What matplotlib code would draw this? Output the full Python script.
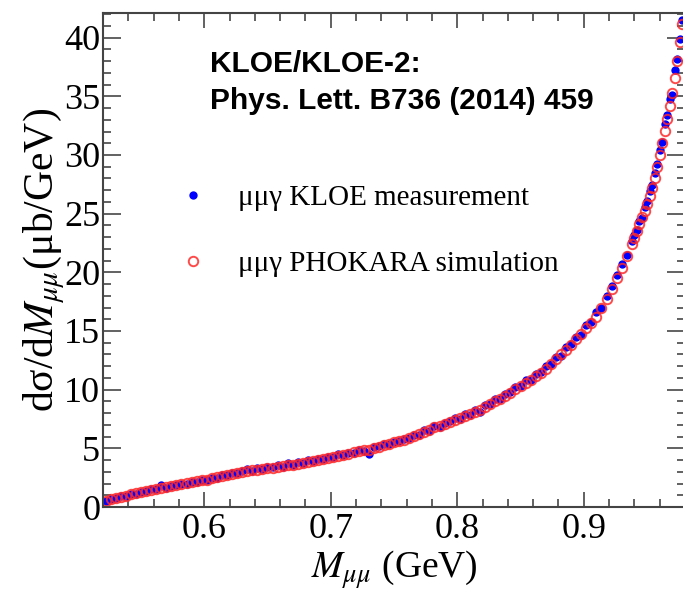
import numpy as np
import matplotlib
matplotlib.use("Agg")
import matplotlib.pyplot as plt
from matplotlib.ticker import MultipleLocator

# bin centres (GeV): 4 MeV bins up to 0.938, 2 MeV bins near the phi region
m_low = np.arange(0.522, 0.9385, 0.004)
m_high = np.arange(0.940, 0.9805, 0.002)
m_mumu = np.concatenate([m_low, m_high])

# PHOKARA simulation, dsigma/dM (ub/GeV)
sim_low = [0.55, 0.65, 0.78, 0.88, 0.98, 1.08, 1.18, 1.28, 1.36, 1.45,
           1.53, 1.62, 1.70, 1.78, 1.86, 1.94, 2.02, 2.10, 2.18, 2.26,
           2.34, 2.44, 2.54, 2.64, 2.74, 2.84, 2.92, 3.00, 3.06, 3.12,
           3.18, 3.24, 3.30, 3.36, 3.42, 3.48, 3.54, 3.60, 3.68, 3.76,
           3.84, 3.92, 4.00, 4.10, 4.20, 4.29, 4.37, 4.45, 4.55, 4.65,
           4.74, 4.82, 4.90, 5.02, 5.14, 5.26, 5.38, 5.50, 5.62, 5.74,
           5.87, 6.03, 6.20, 6.40, 6.60, 6.78, 6.94, 7.10, 7.26, 7.42,
           7.58, 7.74, 7.90, 8.10, 8.30, 8.52, 8.76, 9.00, 9.24, 9.48,
           9.74, 10.02, 10.30, 10.58, 10.86, 11.16, 11.46, 11.80, 12.20, 12.60,
           13.00, 13.40, 13.80, 14.28, 14.76, 15.24, 15.72, 16.20, 16.95, 17.75,
           18.62, 19.50, 20.40, 21.40, 22.40]
sim_high = [22.90, 23.50, 24.10, 24.70, 25.25, 25.80, 26.50, 27.20, 28.00, 29.00,
            30.00, 31.00, 32.05, 33.10, 34.20, 35.30, 36.60, 38.00, 39.60, 41.20,
            42.80]

# KLOE measurement, dsigma/dM (ub/GeV)
data_low = [0.50, 0.68, 0.74, 0.92, 0.95, 1.12, 1.15, 1.32, 1.33, 1.50,
            1.50, 1.90, 1.62, 1.82, 1.84, 1.98, 2.00, 2.14, 2.16, 2.30,
            2.30, 2.48, 2.50, 2.70, 2.72, 2.88, 2.90, 3.06, 3.20, 3.08,
            3.34, 3.20, 3.40, 3.38, 3.58, 3.44, 3.72, 3.56, 3.86, 3.72,
            3.98, 3.88, 4.05, 4.06, 4.30, 4.24, 4.50, 4.40, 4.62, 4.60,
            4.86, 4.80, 4.50, 5.10, 5.20, 5.38, 5.34, 5.58, 5.66, 5.80,
            5.84, 6.10, 6.14, 6.55, 6.50, 6.90, 6.86, 7.20, 7.30, 7.60,
            7.50, 7.90, 7.84, 8.30, 8.10, 8.70, 8.80, 9.20, 9.18, 9.60,
            9.80, 10.20, 10.30, 10.80, 10.84, 11.30, 11.50, 12.00, 12.20, 12.80,
            12.90, 13.60, 13.90, 14.50, 14.70, 15.50, 15.80, 16.60, 17.00, 18.00,
            18.80, 19.80, 20.70, 21.50, 22.70]
data_high = [23.20, 23.60, 24.40, 24.60, 25.60, 26.10, 26.90, 27.40, 28.50, 29.20,
             30.40, 31.10, 32.60, 33.40, 34.80, 35.10, 37.20, 38.20, 39.90, 41.50,
             42.90]

xsec_sim = np.array(sim_low + sim_high)
xsec_data = np.array(data_low + data_high)

plt.rcParams["font.family"] = ["Liberation Serif", "DejaVu Serif"]
plt.rcParams["mathtext.fontset"] = "stix"

fig = plt.figure(figsize=(6.83, 5.97), dpi=100)
ax = fig.add_axes([103 / 683, 90 / 597, 582 / 683, 494 / 597])

ax.plot(m_mumu, xsec_data, "o", color="#0000ff", markersize=6, markeredgewidth=0,
        label="μμγ KLOE measurement")
ax.plot(m_mumu, xsec_sim, "o", markerfacecolor="none", markeredgecolor="#ff2a2a",
        markersize=6.8, markeredgewidth=1.4, alpha=0.85,
        label="μμγ PHOKARA simulation")

ax.set_xlim(0.52, 0.98)
ax.set_ylim(0, 42.1)
ax.xaxis.set_major_locator(MultipleLocator(0.1))
ax.xaxis.set_minor_locator(MultipleLocator(0.02))
ax.yaxis.set_major_locator(MultipleLocator(5))
ax.yaxis.set_minor_locator(MultipleLocator(1))
ax.tick_params(which="both", direction="in", top=True, right=True, colors="#555555",
               labelcolor="black", labelsize=26, width=1.3)
ax.tick_params(which="major", length=11)
ax.tick_params(which="minor", length=5.5)
ax.tick_params(axis="x", which="major", pad=4)
ax.tick_params(axis="y", which="major", length=13, pad=2)
for sp in ax.spines.values():
    sp.set_color("#444444")
    sp.set_linewidth(1.5)

ax.set_xlabel(r"$M_{\mu\mu}$ (GeV)", fontsize=27, labelpad=2)
ax.set_ylabel(r"dσ/d$M_{\mu\mu}$(μb/GeV)", fontsize=30, labelpad=-2)

ax.legend(loc="upper left", bbox_to_anchor=(178.5 / 683, 1 - 185 / 597),
          bbox_transform=fig.transFigure, frameon=False, fontsize=21,
          numpoints=1, handlelength=1.0, handletextpad=1.05, labelspacing=1.34,
          borderpad=0, borderaxespad=0)

fig.text(210 / 683, 1 - 64 / 597, "KLOE/KLOE-2:", family="Liberation Sans",
         fontweight="bold", fontsize=21.5, va="center")
fig.text(210 / 683, 1 - 101 / 597, "Phys. Lett. B736 (2014) 459", family="Liberation Sans",
         fontweight="bold", fontsize=21.5, va="center")

fig.savefig("out.png", dpi=100)
